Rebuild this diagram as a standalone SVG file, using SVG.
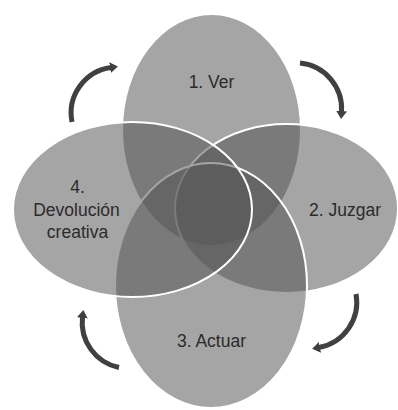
<svg xmlns="http://www.w3.org/2000/svg" width="398" height="410" viewBox="0 0 398 410">
  <style>
    .petal { fill: #555555; fill-opacity: 0.53; }
    .rim { stroke: #ffffff; stroke-width: 2; }
    .label { font-family: "Liberation Sans", Arial, sans-serif; font-size: 17.5px; fill: #2b2b2b; text-anchor: middle; }
    .cycle { fill: none; stroke: #404040; stroke-width: 5; stroke-linecap: butt; marker-end: url(#head); }
  </style>
  <defs>
    <marker id="head" markerUnits="userSpaceOnUse" markerWidth="10" markerHeight="11" refX="1" refY="5.5" orient="auto">
      <path d="M0,0 L8,5.5 L0,11 z" fill="#404040"/>
    </marker>
  </defs>

  <rect width="398" height="410" fill="#ffffff"/>

  <!-- four overlapping petals: see, judge, act, creative return -->
  <g id="ver">
    <ellipse class="petal" cx="211.5" cy="130" rx="88.5" ry="115"/>
  </g>
  <g id="juzgar">
    <ellipse class="petal rim" cx="286.5" cy="208.5" rx="111.5" ry="84.5"/>
  </g>
  <g id="actuar">
    <ellipse class="petal rim" cx="211" cy="285.5" rx="96" ry="122.5"/>
  </g>
  <g id="devolucion">
    <ellipse class="petal rim" cx="132.5" cy="209.5" rx="119.5" ry="87.5"/>
  </g>

  <!-- labels -->
  <g id="labels">
    <text class="label" x="211.5" y="88">1. Ver</text>
    <text class="label" x="345" y="216">2. Juzgar</text>
    <text class="label" x="211.5" y="346.5">3. Actuar</text>
    <text class="label" x="77.5" y="193">4.</text>
    <text class="label" x="76.5" y="216">Devolución</text>
    <text class="label" x="77.5" y="238">creativa</text>
  </g>

  <!-- clockwise cycle arrows between petals -->
  <g id="connectors">
    <path class="cycle" d="M72,122 A46 46 0 0 1 111,67.5"/>
    <path class="cycle" d="M300,63 A46 46 0 0 1 341.5,112"/>
    <path class="cycle" d="M356,294 A46 46 0 0 1 319,347.5"/>
    <path class="cycle" d="M119,367.5 A46 46 0 0 1 82.5,317"/>
  </g>
</svg>
